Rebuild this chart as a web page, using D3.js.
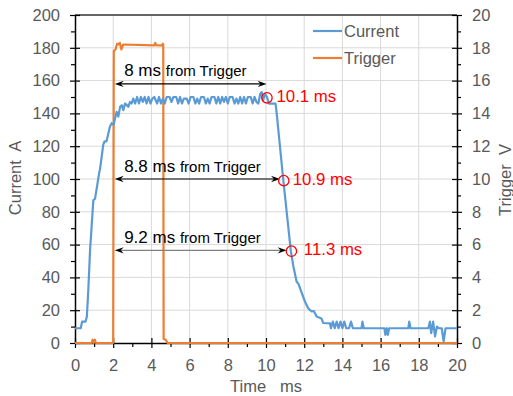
<!DOCTYPE html>
<html><head><meta charset="utf-8">
<script src="https://cdn.jsdelivr.net/npm/d3@7"></script>
<style>
html,body{margin:0;padding:0;background:#fff;}
text{font-family:"Liberation Sans",Arial,sans-serif;}
</style></head>
<body>
<svg id="chart" width="513" height="396"></svg>
<script>
// ---- data ----
const xTicks = [0,2,4,6,8,10,12,14,16,18,20];
const yLeftTicks = [0,20,40,60,80,100,120,140,160,180,200];
const yRightTicks = [0,2,4,6,8,10,12,14,16,18,20];
const seriesNames = ["Current","Trigger"];
// Current (A) vs time (ms)
const currentT = [0,0.3,0.37,0.55,0.62,0.7,0.79,0.96,1.05,1.27,1.31,1.48,1.55,1.65,1.83,1.92,2.02,2.1,2.18,2.27,2.36,2.45,2.53,2.62,2.72,2.79,2.88,2.96,3.05,3.15,3.25,3.35,3.45,3.55,3.65,3.75,3.85,3.95,4.05,4.15,4.3,4.4,4.5,4.6,4.7,4.8,4.95,5.05,5.15,5.3,5.4,5.5,5.6,5.7,5.85,5.95,6.05,6.2,6.3,6.4,6.5,6.6,6.75,6.85,6.95,7.05,7.15,7.3,7.4,7.5,7.6,7.7,7.8,7.9,8.0,8.1,8.25,8.35,8.45,8.55,8.65,8.75,8.85,8.95,9.05,9.2,9.3,9.4,9.5,9.6,9.7,9.78,9.85,9.95,10.05,10.15,10.5,10.56,10.9,11.3,11.43,11.6,11.7,11.87,12.04,12.2,12.3,12.39,12.5,12.65,12.9,13.0,13.35,13.4,13.5,13.6,13.7,13.8,13.9,14.0,14.1,14.2,14.35,14.45,14.55,15.0,15.05,15.12,16.2,16.25,16.32,16.38,16.45,17.45,17.5,17.57,18.5,18.58,18.65,18.75,18.85,18.95,19.05,19.2,19.3,19.4,20];
const currentV = [9,9,13,13,16,33,57,87,88,104,106,121,123,123,132,134,133,137,141,138,144,145,142,146,145,144,147,146,149,146,150,146,150,147,150,146,150,146,149,150,146,150,146,149,146,150,150,147,150,150,146,150,146,149,149,146,150,150,146,149,146,150,150,146,149,146,150,150,146,150,146,150,147,150,146,150,150,146,149,146,150,146,150,146,150,150,146,150,147,146,152,153,148,152,150,146,146,140,100,56,47,37.5,36,30.5,25.3,21.3,20,19.3,19.5,16.2,15,12.2,12,9,13,9,13,9,13,9,13,9,9,13,9,9,13,9,9,5,9,5,9,9,13,9,9,13,6,13,4,10,9,9,1,9,9];
// Trigger (V) vs time (ms)
const triggerT = [0,0.87,0.92,0.98,1.04,1.1,2.0,2.03,2.12,2.2,2.28,2.35,2.43,2.52,4.15,4.2,4.25,4.55,4.6,4.62,4.64,4.75,4.85,20];
const triggerV = [0,0,0.2,0,0.2,0,0,17.8,17.9,18.25,18.2,18.3,17.9,18.2,18.15,18.3,18.15,18.15,18.25,18.2,0.25,0.2,0,0];
// annotations
const markT = [10.05,10.93,11.33];
const markV = [149.5,99,56];
const markLabels = ["10.1 ms","10.9 ms","11.3 ms"];
const labelT = [10.55,11.4,11.98];
const labelV = [147,96.4,53.8];
const arrowStartT = [2.08,2.08,2.08];
const arrowEndT = [10.03,10.73,11.08];
const arrowV = [158,100,56.5];
const arrowNums = ["8 ms","8.8 ms","9.2 ms"];
const arrowText = "from Trigger";

// ---- chart ----
const W=513,H=396;
const m={l:75,r:457,t:15,b:343};
const svg=d3.select("#chart");
const x=d3.scaleLinear().domain([0,20]).range([m.l,m.r]);
const yL=d3.scaleLinear().domain([0,200]).range([m.b,m.t]);
const yR=d3.scaleLinear().domain([0,20]).range([m.b,m.t]);
const blue="#5B9BD5", orange="#ED7D31", grey="#595959";

// grid
const g=svg.append("g");
g.selectAll(".vg").data(xTicks.slice(1,-1)).join("line")
 .attr("x1",d=>x(d)).attr("x2",d=>x(d)).attr("y1",m.t).attr("y2",m.b)
 .attr("stroke","#d9d9d9").attr("stroke-width",1);
g.selectAll(".hg").data(yLeftTicks.slice(1,-1)).join("line")
 .attr("x1",m.l).attr("x2",m.r).attr("y1",d=>yL(d)).attr("y2",d=>yL(d))
 .attr("stroke","#d9d9d9").attr("stroke-width",1);
// top border
svg.append("line").attr("x1",m.l).attr("x2",m.r).attr("y1",m.t).attr("y2",m.t)
 .attr("stroke","#333").attr("stroke-width",1.5);

// axes helpers
function styleAxis(sel){
  sel.select(".domain").attr("stroke","#000").attr("stroke-width",1.5);
  sel.selectAll("text").attr("fill",grey).attr("font-size","16.5px")
    .attr("font-family","'Liberation Sans',Arial,sans-serif");
  sel.selectAll(".tick line").attr("stroke","#000").attr("stroke-width",1.2);
}
const minorX=d3.range(1,20,2), minorY=d3.range(10,200,20), minorYR=d3.range(1,20,2);

// bottom
const ax=svg.append("g").attr("transform",`translate(0,${m.b})`)
 .call(d3.axisBottom(x).tickValues(xTicks).tickSize(5).tickPadding(11).tickSizeOuter(0));
ax.selectAll(".tick line").attr("y1",-5);
styleAxis(ax);
const axm=svg.append("g").attr("transform",`translate(0,${m.b})`)
 .call(d3.axisBottom(x).tickValues(minorX).tickSize(4).tickFormat("").tickSizeOuter(0));
axm.select(".domain").remove(); axm.selectAll(".tick line").attr("stroke","#000").attr("stroke-width",1.2);

// left
const ay=svg.append("g").attr("transform",`translate(${m.l},0)`)
 .call(d3.axisLeft(yL).tickValues(yLeftTicks).tickSize(5).tickPadding(10).tickSizeOuter(0));
ay.selectAll(".tick line").attr("x1",5);
styleAxis(ay);
const aym=svg.append("g").attr("transform",`translate(${m.l},0)`)
 .call(d3.axisLeft(yL).tickValues(minorY).tickSize(4).tickFormat("").tickSizeOuter(0));
aym.select(".domain").remove(); aym.selectAll(".tick line").attr("stroke","#000").attr("stroke-width",1.2);

// right
const ar=svg.append("g").attr("transform",`translate(${m.r},0)`)
 .call(d3.axisRight(yR).tickValues(yRightTicks).tickSize(5).tickPadding(10).tickSizeOuter(0));
ar.selectAll(".tick line").attr("x1",-5);
styleAxis(ar);
const arm=svg.append("g").attr("transform",`translate(${m.r},0)`)
 .call(d3.axisRight(yR).tickValues(minorYR).tickSize(4).tickFormat("").tickSizeOuter(0));
arm.select(".domain").remove(); arm.selectAll(".tick line").attr("stroke","#000").attr("stroke-width",1.2);

// axis titles
svg.append("text").attr("transform",`translate(21,178) rotate(-90)`)
 .attr("text-anchor","middle").attr("fill",grey).attr("font-size","16.5px")
 .style("white-space","pre").text("Current  A");
svg.append("text").attr("transform",`translate(511,180) rotate(-90)`)
 .attr("text-anchor","middle").attr("fill",grey).attr("font-size","16.5px")
 .style("white-space","pre").text("Trigger  V");
svg.append("text").attr("x",266).attr("y",392)
 .attr("text-anchor","middle").attr("fill",grey).attr("font-size","16.5px")
 .style("white-space","pre").text("Time   ms");

// lines
const curData=currentT.map((t,i)=>[t,currentV[i]]);
const trgData=triggerT.map((t,i)=>[t,triggerV[i]]);
svg.append("path").datum(trgData)
 .attr("d",d3.line().x(d=>x(d[0])).y(d=>yR(d[1])))
 .attr("fill","none").attr("stroke",orange).attr("stroke-width",2.2).attr("stroke-linejoin","round");
svg.append("path").datum(curData)
 .attr("d",d3.line().x(d=>x(d[0])).y(d=>yL(d[1])))
 .attr("fill","none").attr("stroke",blue).attr("stroke-width",2.2).attr("stroke-linejoin","round");

// legend
const lg=svg.append("g");
seriesNames.forEach((n,i)=>{
  const yy=31+i*27;
  lg.append("line").attr("x1",313).attr("x2",342).attr("y1",yy).attr("y2",yy)
    .attr("stroke",i===0?blue:orange).attr("stroke-width",2.2);
  lg.append("text").attr("x",344).attr("y",yy).attr("dy","0.35em")
    .attr("fill",grey).attr("font-size","16.5px").text(n);
});

// arrows
function arrowHead(px,py,dir,col){
  const L=9,h=3.2,n=3;
  svg.append("path")
   .attr("d",`M${px},${py} L${px-dir*L},${py-h} L${px-dir*(L-n)},${py} L${px-dir*L},${py+h} Z`)
   .attr("fill",col).attr("stroke","none");
}
const arrowCols=["#000","#000","#808080"];
arrowV.forEach((v,i)=>{
  const y0=yL(v), x0=x(arrowStartT[i]), x1=x(arrowEndT[i]);
  svg.append("line").attr("x1",x0+4).attr("x2",x1-4).attr("y1",y0).attr("y2",y0)
    .attr("stroke",arrowCols[i]).attr("stroke-width",1.2);
  arrowHead(x0,y0,-1,"#000");
  arrowHead(x1,y0,1,"#000");
  const t=svg.append("text").attr("x",x(2.6)-0.5).attr("y",y0-7.4).attr("fill","#000")
    .style("white-space","pre");
  t.append("tspan").attr("font-size","17px").text(arrowNums[i]+" ");
  t.append("tspan").attr("font-size","15px").text(arrowText);
});

// markers
markT.forEach((t,i)=>{
  svg.append("circle").attr("cx",x(t)).attr("cy",yL(markV[i])).attr("r",5.2)
    .attr("fill","none").attr("stroke","#FF0000").attr("stroke-width",1.3);
  svg.append("text").attr("x",x(labelT[i])).attr("y",yL(labelV[i]))
    .attr("fill","#FF0000").attr("font-size","16.8px").text(markLabels[i]);
});
</script>
</body></html>
